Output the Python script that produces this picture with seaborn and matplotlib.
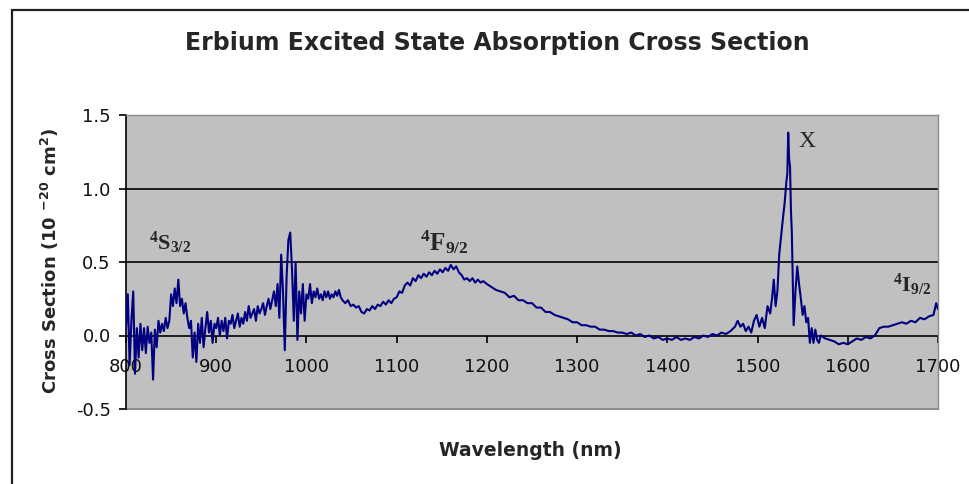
import matplotlib
matplotlib.use("Agg")
import matplotlib.pyplot as plt
import matplotlib.patches as mpatches
import seaborn as sns
import pandas as pd

# ---- data ----
wavelength_noisy = [
    800, 802, 804, 806, 808, 810, 812, 814, 816, 818, 820, 822, 824, 826, 828, 830,
    832, 834, 836, 838, 840, 842, 844, 846, 848, 850, 852, 854, 856, 858, 860, 862,
    864, 866, 868, 870, 872, 874, 876, 878, 880, 882, 884, 886, 888, 890, 892, 894,
    896, 898, 900, 902, 904, 906, 908, 910, 912, 914, 916, 918, 920, 922, 924, 926,
    928, 930, 932, 934, 936, 938, 940, 942, 944, 946, 948, 950, 952, 954, 956, 958,
    960, 962, 964, 966, 968, 970, 972, 974, 976, 978, 980, 982, 984, 986, 988, 990,
    992, 994, 996, 998, 1000, 1002, 1004, 1006, 1008, 1010, 1012, 1014, 1016, 1018,
    1020, 1022, 1024, 1026, 1028, 1030, 1032, 1034, 1036, 1038]
cross_noisy = [
    0.05, 0.28, -0.20, 0.10, 0.30, -0.26, 0.05, -0.15, 0.08, -0.10, 0.05, -0.12, 0.06, -0.05, 0.02, -0.30,
    0.04, -0.08, 0.10, 0.02, 0.08, 0.03, 0.12, 0.05, 0.10, 0.28, 0.20, 0.32, 0.22, 0.38, 0.20, 0.25,
    0.15, 0.22, 0.12, 0.05, 0.10, -0.15, 0.02, -0.18, 0.08, -0.05, 0.12, -0.08, 0.05, 0.16, 0.02, 0.10,
    -0.05, 0.08, 0.05, 0.12, 0.00, 0.10, 0.03, 0.12, -0.02, 0.10, 0.08, 0.14, 0.05, 0.10, 0.15, 0.06,
    0.12, 0.08, 0.16, 0.10, 0.20, 0.12, 0.15, 0.18, 0.10, 0.20, 0.15, 0.18, 0.22, 0.14, 0.20, 0.25,
    0.18, 0.24, 0.30, 0.20, 0.35, 0.12, 0.55, 0.30, -0.10, 0.40, 0.65, 0.70, 0.45, 0.10, 0.50, -0.03,
    0.30, 0.15, 0.35, 0.10, 0.28, 0.25, 0.35, 0.22, 0.30, 0.26, 0.32, 0.25, 0.28, 0.24,
    0.30, 0.26, 0.30, 0.25, 0.28, 0.26, 0.30, 0.27, 0.31, 0.26]

wavelength_smooth = [
    1040, 1043, 1046, 1049, 1052, 1055, 1058, 1061, 1064, 1067, 1070, 1073, 1076, 1079,
    1082, 1085, 1088, 1091, 1094, 1097, 1100, 1103, 1106, 1109, 1112, 1115, 1118, 1121,
    1124, 1127, 1130, 1133, 1136, 1139, 1142, 1145, 1148, 1151, 1154, 1157, 1160, 1163,
    1166, 1169, 1172, 1175, 1178, 1181, 1184, 1187, 1190, 1193, 1196, 1200, 1205, 1210,
    1215, 1220, 1225, 1230, 1235, 1240, 1245, 1250, 1255, 1260, 1265, 1270, 1275, 1280,
    1285, 1290, 1295, 1300, 1305, 1310, 1315, 1320, 1325, 1330, 1335, 1340, 1345, 1350,
    1355, 1360, 1365, 1370, 1375, 1380, 1385, 1390, 1395, 1400, 1405, 1410, 1415, 1420,
    1425, 1430, 1435, 1440, 1445, 1450, 1455, 1460, 1465]
cross_smooth = [
    0.24, 0.22, 0.24, 0.20, 0.21, 0.19, 0.20, 0.16, 0.15, 0.18, 0.17, 0.20, 0.18, 0.21,
    0.20, 0.23, 0.21, 0.24, 0.22, 0.25, 0.26, 0.30, 0.29, 0.34, 0.36, 0.34, 0.39, 0.37,
    0.41, 0.39, 0.42, 0.40, 0.43, 0.41, 0.44, 0.42, 0.45, 0.43, 0.46, 0.44, 0.48, 0.45,
    0.47, 0.43, 0.41, 0.38, 0.39, 0.37, 0.39, 0.36, 0.38, 0.36, 0.37, 0.35, 0.33, 0.31,
    0.30, 0.29, 0.26, 0.27, 0.24, 0.24, 0.22, 0.22, 0.19, 0.19, 0.16, 0.16, 0.14, 0.13,
    0.12, 0.11, 0.09, 0.09, 0.07, 0.07, 0.06, 0.06, 0.04, 0.04, 0.03, 0.03, 0.02, 0.02,
    0.01, 0.02, 0.00, 0.01, -0.01, 0.00, -0.02, -0.01, -0.03, -0.02, -0.03, -0.01, -0.03, -0.02,
    -0.03, -0.01, -0.02, 0.00, -0.01, 0.01, 0.00, 0.02, 0.01]

wavelength_peak = [
    1470, 1475, 1478, 1481, 1484, 1487, 1490, 1493, 1496, 1499, 1502, 1505, 1508, 1511,
    1514, 1516, 1518, 1520, 1522, 1524, 1526, 1528, 1530, 1532, 1533, 1534, 1535, 1536,
    1537, 1538, 1540, 1542, 1544, 1546, 1548, 1550, 1552, 1554, 1556, 1558, 1560, 1562,
    1564, 1566, 1568, 1570, 1575, 1580, 1585, 1590, 1595, 1600, 1605, 1610, 1615, 1620,
    1625, 1630, 1635, 1640, 1645, 1650, 1655, 1660, 1665, 1670, 1675, 1680, 1685, 1690,
    1695, 1698, 1700]
cross_peak = [
    0.03, 0.06, 0.10, 0.06, 0.08, 0.03, 0.06, 0.02, 0.10, 0.14, 0.06, 0.12, 0.05, 0.20,
    0.15, 0.25, 0.38, 0.20, 0.30, 0.55, 0.67, 0.79, 0.90, 1.05, 1.10, 1.38, 1.20, 1.15,
    0.85, 0.70, 0.07, 0.30, 0.47, 0.35, 0.25, 0.14, 0.20, 0.09, 0.12, -0.05, 0.05, -0.05,
    0.04, -0.03, -0.05, 0.00, -0.02, -0.03, -0.04, -0.06, -0.05, -0.06, -0.04, -0.02, -0.03, -0.01,
    -0.02, 0.00, 0.05, 0.06, 0.06, 0.07, 0.08, 0.09, 0.08, 0.10, 0.09, 0.12, 0.11, 0.13,
    0.14, 0.22, 0.18]

x_ticks = [800, 900, 1000, 1100, 1200, 1300, 1400, 1500, 1600, 1700]
y_ticks = [-0.5, 0.0, 0.5, 1.0, 1.5]
y_tick_labels = ["-0.5", "0.0", "0.5", "1.0", "1.5"]

title = "Erbium Excited State Absorption Cross Section"
x_label = "Wavelength (nm)"

df = pd.DataFrame({
    "wavelength": wavelength_noisy + wavelength_smooth + wavelength_peak,
    "cross": cross_noisy + cross_smooth + cross_peak,
})

# ---- style ----
sns.set_style("white")
plt.rcParams["font.family"] = ["DejaVu Sans"]
plt.rcParams["axes.unicode_minus"] = False
plt.rcParams["mathtext.fontset"] = "custom"
plt.rcParams["mathtext.rm"] = "Liberation Serif:bold"
plt.rcParams["mathtext.sf"] = "DejaVu Sans:bold"
plt.rcParams["mathtext.default"] = "rm"

fig = plt.figure(figsize=(9.69, 4.84), dpi=100)
fig.patch.set_facecolor("white")
ax = fig.add_axes([126 / 969, 1 - 409 / 484, (938 - 126) / 969, (409 - 115) / 484])
ax.set_facecolor("#C0C0C0")

# outer chart border
fig.patches.append(mpatches.Rectangle((12 / 969, -0.1), 1.2, (484 - 10) / 484 + 0.1,
                                      transform=fig.transFigure, fill=False,
                                      edgecolor="#202020", linewidth=1.6, zorder=0))

for yv in (0.5, 1.0):
    ax.axhline(yv, color="black", linewidth=1.2, zorder=1)

sns.lineplot(data=df, x="wavelength", y="cross", ax=ax, color="#000080",
             linewidth=1.5, zorder=3, estimator=None, sort=False)

ax.set_xlim(800, 1700)
ax.set_ylim(-0.5, 1.5)
ax.set_xticks(x_ticks)
ax.set_xticklabels([str(t) for t in x_ticks])
ax.set_yticks(y_ticks)
ax.set_yticklabels(y_tick_labels)

for side in ("top", "right"):
    ax.spines[side].set_color("#8C8C8C")
    ax.spines[side].set_linewidth(1.0)
ax.spines["bottom"].set_position(("data", 0))
ax.spines["bottom"].set_color("black")
ax.spines["bottom"].set_linewidth(1.2)
ax.spines["bottom"].set_zorder(2)
ax.spines["left"].set_color("black")
ax.spines["left"].set_linewidth(1.2)
ax.axhline(-0.5, color="#8C8C8C", linewidth=1.5, zorder=2, clip_on=False)

ax.tick_params(axis="x", direction="out", length=5, width=1.2, color="black",
               labelsize=13, pad=11, bottom=True)
ax.tick_params(axis="y", direction="out", length=5, width=1.2, color="black",
               labelsize=13, pad=6, left=True)
for lab in ax.get_xticklabels() + ax.get_yticklabels():
    lab.set_color("#111111")

ax.set_xlabel("")
ax.set_ylabel("")
fig.text(530 / 969, 1 - 450 / 484, x_label, ha="center", va="center",
         fontsize=13.5, fontweight="bold")
fig.text(50 / 969, 1 - 261 / 484, r"Cross Section (10 $\mathsf{^{-20}}$ cm$\mathsf{^{2}}$)",
         ha="center", va="center", rotation=90, fontsize=13, fontweight="bold")
fig.text(497 / 969, 1 - 43 / 484, title, ha="center", va="center",
         fontsize=17, fontweight="bold")

serif = ["Liberation Serif", "DejaVu Serif"]
ax.text(826, 0.58, r"$^{4}$S$_{3/2}$", fontsize=16, fontweight="bold", family=serif, zorder=4)
ax.text(1126, 0.58, r"$^{4}$F$_{9/2}$", fontsize=18, fontweight="bold", family=serif, zorder=4)
ax.text(1545, 1.28, "X", fontsize=17, family=serif, zorder=4)
ax.text(1650, 0.30, r"$^{4}$I$_{9/2}$", fontsize=16, fontweight="bold", family=serif, zorder=4)

fig.savefig("out.png", dpi=100)
